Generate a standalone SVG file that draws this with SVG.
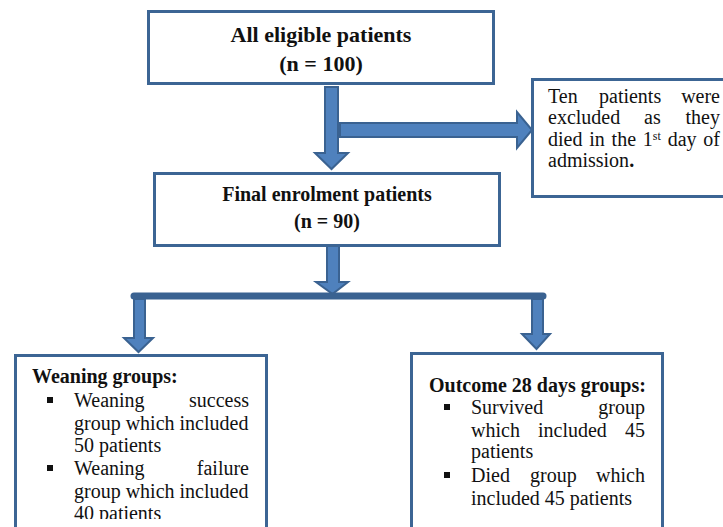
<svg xmlns="http://www.w3.org/2000/svg" width="723" height="527" viewBox="0 0 723 527">
<defs>
<style>
.box{fill:#ffffff;stroke:#3c6594;stroke-width:3}
.arr{fill:#4f81bd;stroke:#3a6291;stroke-width:2;stroke-linejoin:miter}
.t{font-family:"Liberation Serif","Times New Roman",serif;font-size:20px;fill:#111}
.b{font-weight:bold}
.c{text-anchor:middle}
.e{text-anchor:end}
.big{font-size:22px}
.bul{fill:#111}
</style>
<clipPath id="clipL"><rect x="0" y="0" width="723" height="519"/></clipPath>
</defs>
<rect width="723" height="527" fill="#ffffff"/>

<g id="connectors">
<polygon class="arr" points="325,87 338,87 338,153 348,153 331.5,169 315,153 325,153"/>
<polygon class="arr" points="340,123 517,123 517,112 532,130 517,148 517,137 340,137"/>
<polygon class="arr" points="327,235 339,235 339,282 348,282 332.5,294 316,282 327,282"/>
<line x1="134" y1="296" x2="543" y2="296" stroke="#3a6291" stroke-width="7" stroke-linecap="round"/>
<polygon class="arr" points="134,299 145,299 145,338 153,338 138.5,352 124,338 134,338"/>
<polygon class="arr" points="532,299 543,299 543,334 550,334 536.5,349 522,334 532,334"/>
</g>

<g id="node-all">
<rect class="box" x="148.5" y="11.5" width="345" height="72"/>
<text class="t b c big" x="321" y="42">All eligible patients</text>
<text class="t b c big" x="321" y="71">(n = 100)</text>
</g>

<g id="node-excluded">
<rect class="box" x="532.5" y="79.5" width="200" height="117"/>
<text class="t" x="548" y="103">Ten</text>
<text class="t" x="599" y="103">patients</text>
<text class="t e" x="720" y="103">were</text>
<text class="t" x="548" y="124">excluded</text>
<text class="t" x="644" y="124">as</text>
<text class="t e" x="720" y="124">they</text>
<text class="t" x="548" y="146" word-spacing="1.8">died in the 1<tspan font-size="12" dy="-6">st</tspan><tspan dy="6"> day of</tspan></text>
<text class="t" x="548" y="167">admission<tspan class="b">.</tspan></text>
</g>

<g id="node-final">
<rect class="box" x="154.5" y="173.5" width="345" height="72"/>
<text class="t b c" x="327" y="201">Final enrolment patients</text>
<text class="t b c" x="327" y="228">(n = 90)</text>
</g>

<g id="node-weaning">
<rect class="box" x="15.5" y="355.5" width="251" height="200"/>
<text class="t b" x="32" y="383">Weaning groups:</text>
<rect class="bul" x="47" y="397" width="6" height="6"/>
<text class="t" x="74" y="407">Weaning</text>
<text class="t e" x="249" y="407">success</text>
<text class="t" x="74" y="430">group which included</text>
<text class="t" x="74" y="452">50 patients</text>
<rect class="bul" x="47" y="465" width="6" height="6"/>
<text class="t" x="74" y="475">Weaning</text>
<text class="t e" x="249" y="475">failure</text>
<text class="t" x="74" y="498">group which included</text>
<text class="t" x="74" y="520" clip-path="url(#clipL)">40 patients</text>
</g>

<g id="node-outcome">
<rect class="box" x="411.5" y="353.5" width="251" height="200"/>
<text class="t b" x="429" y="392">Outcome 28 days groups:</text>
<rect class="bul" x="444" y="404" width="6" height="6"/>
<text class="t" x="471" y="414">Survived</text>
<text class="t e" x="645" y="414">group</text>
<text class="t" x="471" y="437">which</text>
<text class="t" x="538" y="437">included</text>
<text class="t e" x="645" y="437">45</text>
<text class="t" x="471" y="458">patients</text>
<rect class="bul" x="444" y="472" width="6" height="6"/>
<text class="t" x="471" y="482">Died</text>
<text class="t" x="530" y="482">group</text>
<text class="t e" x="645" y="482">which</text>
<text class="t" x="471" y="505">included 45 patients</text>
</g>
</svg>
